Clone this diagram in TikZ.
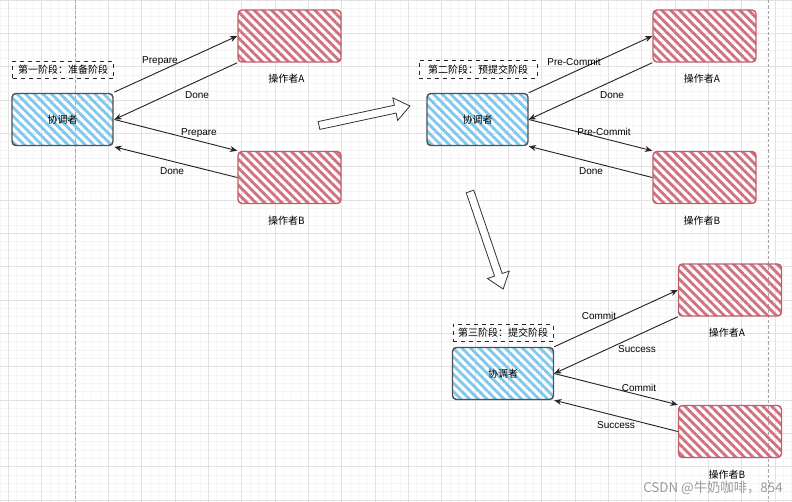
\documentclass[tikz,border=0pt]{standalone}
\usepackage{fontspec}
\setmainfont{Liberation Sans}
\newfontfamily\cjk{Noto Sans CJK SC}
\usetikzlibrary{arrows.meta,patterns.meta,positioning}
\definecolor{hatchblue}{RGB}{125,200,236}
\definecolor{hatchred}{RGB}{208,112,128}
\definecolor{edgered}{RGB}{192,94,106}
\definecolor{edgegray}{RGB}{80,80,80}
\definecolor{gridmajor}{RGB}{226,226,226}
\definecolor{gridminor}{RGB}{245,245,245}
\tikzset{
  coordbox/.style={draw=edgegray, line width=1.1pt, rounded corners=3pt,
    minimum width=75.75pt, minimum height=39pt,
    pattern={Lines[angle=-45,distance=4.6pt,line width=2.1pt]}, pattern color=hatchblue,
    font=\cjk\fontsize{7.5pt}{9pt}\selectfont},
  workbox/.style={draw=edgered, line width=1.1pt, rounded corners=3pt,
    minimum width=77.25pt, minimum height=39pt,
    pattern={Lines[angle=-45,distance=4.6pt,line width=2.1pt]}, pattern color=hatchred},
  phasebox/.style={draw=black!85, dashed, line width=0.6pt, minimum height=13pt,
    inner sep=0pt, font=\cjk\fontsize{7.5pt}{9pt}\selectfont},
  worklbl/.style={inner sep=0pt, font=\cjk\fontsize{7.5pt}{9pt}\selectfont},
  lbl/.style={inner sep=0pt, font=\fontsize{7.5pt}{9pt}\selectfont},
  msg/.style={draw=black!85, line width=0.7pt, -{Stealth[length=5.5pt,width=4.5pt]}},
  bigarrow/.style={draw=black!80, line width=0.6pt, fill=white}
}
\begin{document}
\begin{tikzpicture}[x=0.75pt,y=-0.75pt]
\useasboundingbox (0,0) rectangle (792,502);
% grid
\foreach \x in {0,8.3333,...,792} \draw[gridminor, line width=0.5pt] (\x,0) -- (\x,502);
\foreach \y in {0,8.3333,...,502} \draw[gridminor, line width=0.5pt] (0,\y) -- (792,\y);
\foreach \x in {8.3333,41.6667,...,792} \draw[gridmajor, line width=0.7pt] (\x,0) -- (\x,502);
\foreach \y in {0,33.3333,...,502} \draw[gridmajor, line width=0.7pt] (0,\y) -- (792,\y);
\draw[black!35, line width=0.6pt, dash pattern=on 2.5pt off 1.5pt] (75.5,0) -- (75.5,502);
\draw[black!35, line width=0.6pt, dash pattern=on 2.5pt off 1.5pt] (768,0) -- (768,502);

% phase 1
\node[coordbox] (c1) at (62.5,119.5) {协调者};
\node[workbox] (a1) at (289.5,36) {};
\node[workbox] (b1) at (289.5,177.5) {};
\node[phasebox, minimum width=75.75pt] (p1) at (63,70) {第一阶段：准备阶段};
\node[worklbl] (la1) at (286.5,79) {操作者A};
\node[worklbl] (lb1) at (286.5,220.5) {操作者B};
\draw[msg] (c1.north east) -- (a1.west);
\draw[msg] (a1.south west) -- (c1.east);
\draw[msg] (c1.east) -- (b1.north west);
\draw[msg] (b1.west) -- (c1.south east);
\node[lbl] (m11) at (160,61.5) {Prepare};
\node[lbl] (m12) at (197,95.5) {Done};
\node[lbl] (m13) at (199,133.5) {Prepare};
\node[lbl] (m14) at (172,171) {Done};

% phase 2
\begin{scope}[shift={(415,0)}]
\node[coordbox] (c2) at (62.5,119.5) {协调者};
\node[workbox] (a2) at (289.5,36) {};
\node[workbox] (b2) at (289.5,177.5) {};
\node[phasebox, minimum width=88.5pt] (p2) at (63,69.5) {第二阶段：预提交阶段};
\node[worklbl] (la2) at (287,79) {操作者A};
\node[worklbl] (lb2) at (287,220.5) {操作者B};
\draw[msg] (c2.north east) -- (a2.west);
\draw[msg] (a2.south west) -- (c2.east);
\draw[msg] (c2.east) -- (b2.north west);
\draw[msg] (b2.west) -- (c2.south east);
\node[lbl] (m21) at (159,62) {Pre-Commit};
\node[lbl] (m22) at (197,95.5) {Done};
\node[lbl] (m23) at (189,132) {Pre-Commit};
\node[lbl] (m24) at (176,171) {Done};
\end{scope}

% phase 3
\begin{scope}[shift={(440.5,254)}]
\node[coordbox] (c3) at (62.5,119.5) {协调者};
\node[workbox] (a3) at (289.5,36) {};
\node[workbox] (b3) at (289.5,177.5) {};
\node[phasebox, minimum width=75pt] (p3) at (62.5,79) {第三阶段：提交阶段};
\node[worklbl] (la3) at (286.5,79) {操作者A};
\node[worklbl] (lb3) at (286.5,221) {操作者B};
\draw[msg] (c3.north east) -- (a3.west);
\draw[msg] (a3.south west) -- (c3.east);
\draw[msg] (c3.east) -- (b3.north west);
\draw[msg] (b3.west) -- (c3.south east);
\node[lbl] (m31) at (158.5,62) {Commit};
\node[lbl] (m32) at (196.5,95) {Success};
\node[lbl] (m33) at (198.5,134) {Commit};
\node[lbl] (m34) at (175.5,171) {Success};
\end{scope}

% big arrows between phases
\draw[bigarrow, shift={(319,125.5)}, rotate=12.1]
  (0,-4) -- (78,-4) -- (78,-11.5) -- (93,0) -- (78,11.5) -- (78,4) -- (0,4) -- cycle;
\draw[bigarrow, shift={(470,191.5)}, rotate=-71.2]
  (0,-4) -- (88,-4) -- (88,-11.5) -- (103,0) -- (88,11.5) -- (88,4) -- (0,4) -- cycle;

\node[text=black!40, inner sep=0pt, font=\cjk\fontsize{10pt}{12pt}\selectfont] (mark) at (713,488) {CSDN @牛奶咖啡，854};
\end{tikzpicture}
\end{document}
